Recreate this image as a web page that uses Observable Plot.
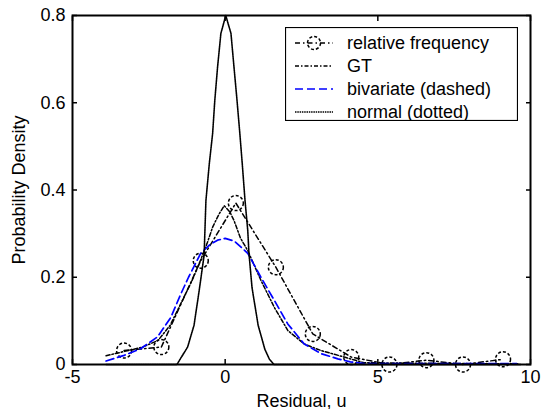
<!DOCTYPE html>
<html>
<head>
<meta charset="utf-8">
<script src="https://cdn.jsdelivr.net/npm/d3@7"></script>
<script src="https://cdn.jsdelivr.net/npm/@observablehq/plot@0.6"></script>
<style>
  html, body { margin: 0; padding: 0; background: #fff; }
  #wrap { position: relative; width: 541px; height: 409px; font-family: "Liberation Sans", Arial, Helvetica, sans-serif; }
  #legend { position: absolute; left: 285px; top: 27px; }
</style>
</head>
<body>
<div id="wrap"></div>
<script>
// ---- data ----
const xTicks = [-5, 0, 5, 10];
const yTicks = [0, 0.2, 0.4, 0.6, 0.8];

const seriesNames = ["relative frequency", "GT", "bivariate (dashed)", "normal (dotted)"];

// relative frequency (circles)
const relX = [-3.31, -2.09, -0.80, 0.35, 1.66, 2.87, 4.13, 5.38, 6.59, 7.79, 9.10];
const relY = [0.032, 0.040, 0.238, 0.370, 0.223, 0.070, 0.017, 0.000, 0.010, 0.000, 0.012];

// GT (dash-dot)
const gtX = [-3.9, -3.3, -2.7, -2.2, -1.8, -1.45, -1.1, -0.8, -0.58, -0.41, -0.2, -0.03, 0.15, 0.29, 0.5, 0.74, 1.17, 1.61, 2.05, 2.59, 3.14, 3.9, 4.55, 6.0, 8.0, 9.6];
const gtY = [0.020, 0.030, 0.040, 0.055, 0.090, 0.140, 0.190, 0.240, 0.280, 0.315, 0.345, 0.364, 0.350, 0.330, 0.290, 0.261, 0.193, 0.131, 0.078, 0.047, 0.032, 0.017, 0.004, 0.003, 0.002, 0.002];

// bivariate (dashed, blue)
const bivX = [-3.9, -3.31, -2.77, -2.22, -1.78, -1.45, -1.2, -0.8, -0.5, -0.25, 0.0, 0.3, 0.74, 1.17, 1.61, 2.05, 2.59, 3.14, 3.69, 4.1, 4.56, 6.0, 8.0, 9.55];
const bivY = [0.008, 0.021, 0.036, 0.063, 0.108, 0.162, 0.200, 0.255, 0.275, 0.285, 0.289, 0.283, 0.255, 0.200, 0.147, 0.093, 0.047, 0.025, 0.013, 0.006, 0.002, 0.002, 0.002, 0.002];

// normal (dotted)
const normX = [-3.9, -1.58, -1.45, -1.23, -1.02, -0.85, -0.69, -0.63, -0.52, -0.41, -0.34, -0.25, -0.14, 0.0, 0.02, 0.19, 0.29, 0.38, 0.48, 0.56, 0.65, 0.74, 0.78, 0.88, 1.08, 1.30, 1.45, 1.6, 9.7];
const normY = [0, 0, 0.015, 0.040, 0.090, 0.170, 0.250, 0.376, 0.460, 0.530, 0.605, 0.681, 0.759, 0.795, 0.80, 0.759, 0.681, 0.612, 0.530, 0.460, 0.376, 0.307, 0.254, 0.176, 0.090, 0.035, 0.012, 0, 0];

const zip = (xs, ys) => xs.map((x, i) => ({x, y: ys[i]}));
const rel = zip(relX, relY);
const gt = zip(gtX, gtY);
const biv = zip(bivX, bivY);
const norm = zip(normX, normY);

const fmt = d => String(d);
const FS = 18;
const FONT = '"Liberation Sans", Arial, Helvetica, sans-serif';

const chart = Plot.plot({
  width: 541,
  height: 409,
  marginLeft: 72,
  marginRight: 11,
  marginTop: 15,
  marginBottom: 45,
  style: {fontFamily: FONT, fontSize: FS + "px", background: "#fff", color: "#000"},
  x: {domain: [-5, 10]},
  y: {domain: [0, 0.8]},
  marks: [
    Plot.line(rel, {x: "x", y: "y", stroke: "#000", strokeWidth: 1.5, strokeDasharray: "5,3,1.5,3"}),
    Plot.dot(rel, {x: "x", y: "y", r: 7.5, stroke: "#000", strokeWidth: 1.5, strokeDasharray: "3,2", fill: "none"}),
    Plot.line(gt, {x: "x", y: "y", stroke: "#000", strokeWidth: 1.5, strokeDasharray: "4,2,1.5,2"}),
    Plot.line(biv, {x: "x", y: "y", stroke: "#0000ff", strokeWidth: 1.7, strokeDasharray: "8,4"}),
    Plot.line(norm, {x: "x", y: "y", stroke: "#000", strokeWidth: 1.6, strokeDasharray: "1.5,0.8"}),
    Plot.frame({stroke: "#000", strokeWidth: 2}),
    Plot.axisX({anchor: "bottom", ticks: xTicks, tickFormat: fmt, tickSize: -5, tickPadding: 11, strokeWidth: 1.5,
      label: "Residual, u", labelAnchor: "center", labelArrow: "none", labelOffset: 42, fontSize: FS}),
    Plot.axisX({anchor: "top", ticks: xTicks, tickSize: -5, fill: "none", strokeWidth: 1.5, label: null}),
    Plot.axisY({anchor: "left", ticks: yTicks, tickFormat: fmt, tickSize: -5, tickPadding: 12, strokeWidth: 1.5,
      label: "Probability Density", labelAnchor: "center", labelArrow: "none", labelOffset: 60, fontSize: FS}),
    Plot.axisY({anchor: "right", ticks: yTicks, tickSize: -5, fill: "none", strokeWidth: 1.5, label: null})
  ]
});

const wrap = document.getElementById("wrap");
wrap.appendChild(chart);

// ---- legend (overlay inside the axes, top-right) ----
const legendStyles = [
  {stroke: "#000", dash: "5,3,1.5,3", marker: true},
  {stroke: "#000", dash: "4,2,1.5,2", marker: false},
  {stroke: "#0000ff", dash: "8,4", marker: false},
  {stroke: "#000", dash: "1.5,0.8", marker: false}
];
const lw = 233, lh = 94;
const svg = d3.create("svg").attr("id", "legend").attr("width", lw).attr("height", lh)
  .style("font-family", FONT).style("font-size", FS + "px");
svg.append("rect").attr("x", 0.5).attr("y", 0.5).attr("width", lw - 1).attr("height", lh - 1)
  .attr("fill", "#fff").attr("stroke", "#000").attr("stroke-width", 1.2);
seriesNames.forEach((name, i) => {
  const cy = 16 + i * 23;
  const st = legendStyles[i];
  svg.append("line").attr("x1", 10).attr("x2", 48).attr("y1", cy).attr("y2", cy)
    .attr("stroke", st.stroke).attr("stroke-width", st.stroke === "#0000ff" ? 1.7 : 1.5).attr("stroke-dasharray", st.dash);
  if (st.marker) {
    svg.append("circle").attr("cx", 29).attr("cy", cy).attr("r", 6.5).attr("fill", "none")
      .attr("stroke", "#000").attr("stroke-width", 1.5).attr("stroke-dasharray", "3,2");
  }
  svg.append("text").attr("x", 62).attr("y", cy).attr("dy", "0.35em").text(name);
});
wrap.appendChild(svg.node());
</script>
</body>
</html>
